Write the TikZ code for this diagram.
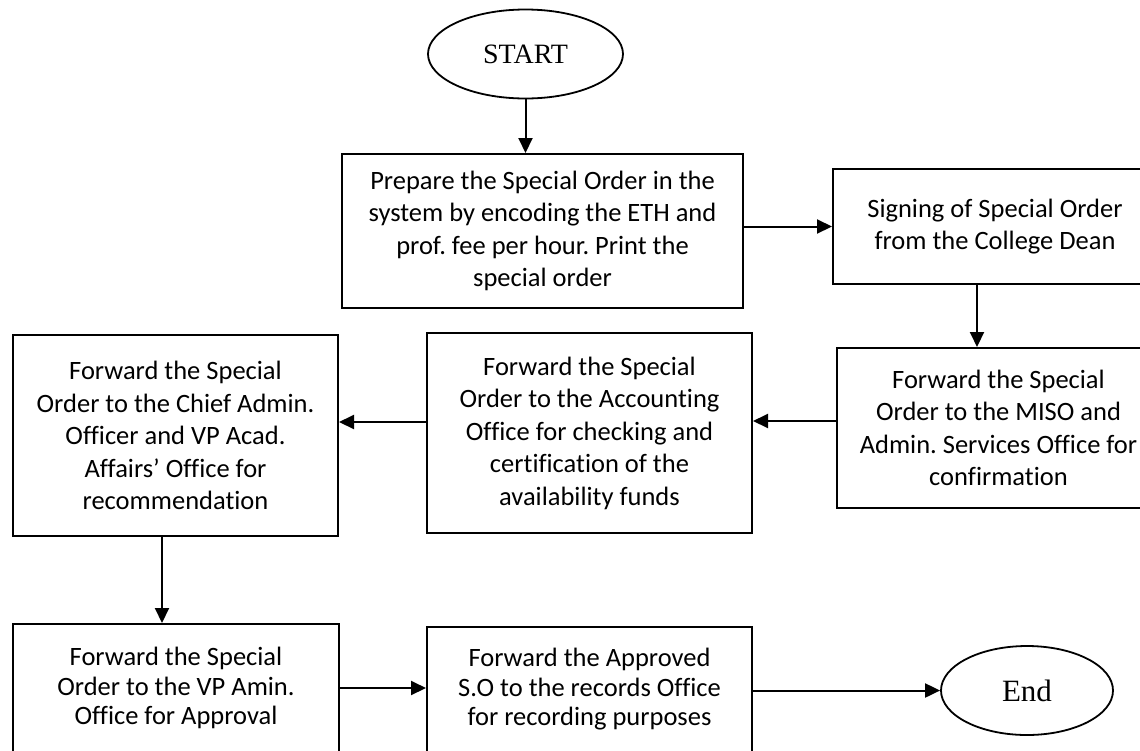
\documentclass[tikz,border=0pt]{standalone}
\usepackage{fontspec}
\setmainfont{Carlito}[Ligatures=NoCommon]
\newfontfamily\termfont{Liberation Serif}
\usetikzlibrary{arrows.meta,shapes.geometric}
\frenchspacing

\begin{document}
\begin{tikzpicture}[x=1pt,y=1pt,
  stepbox/.style={draw, line width=2pt, rectangle, inner sep=0pt, align=center,
    font=\fontsize{26.5}{32.5}\selectfont},
  lowbox/.style={stepbox, font=\fontsize{26.5}{29.5}\selectfont},
  terminal/.style={draw, line width=1.8pt, ellipse, inner sep=0pt},
  flow/.style={line width=2pt, -{Triangle[length=15pt,width=14pt]}}
]
\clip (0,0) rectangle (1140,-750);
\fill[white] (0,0) rectangle (1140,-750);

% terminals
\node[terminal, minimum width=195pt, minimum height=89pt, font=\termfont\fontsize{28}{32}\selectfont]
  (start) at (525.5,-54) {START};
\node[terminal, minimum width=172pt, minimum height=89pt, font=\termfont\fontsize{31}{36}\selectfont]
  (finish) at (1027,-690.5) {End};

% process steps
\node[stepbox, minimum width=401pt, minimum height=154pt] (prep) at (542.5,-231)
  {Prepare the Special Order in the\\system by encoding the ETH and\\prof. fee per hour. Print the\\special order};
\node[stepbox, minimum width=324pt, minimum height=115pt] (sign) at (995,-226.5)
  {Signing of Special Order\\from the College Dean};
\node[stepbox, minimum width=323pt, minimum height=160pt] (miso) at (998.5,-428)
  {Forward the Special\\Order to the MISO and\\Admin. Services Office for\\confirmation};
\node[stepbox, minimum width=325pt, minimum height=200pt] (acct) at (589.5,-433)
  {Forward the Special\\Order to the Accounting\\Office for checking and\\certification of the\\availability funds};
\node[stepbox, minimum width=325pt, minimum height=201pt] (chief) at (175.5,-435.5)
  {Forward the Special\\Order to the Chief Admin.\\Officer and VP Acad.\\Affairs’ Office for\\recommendation};
\node[lowbox, minimum width=326pt, minimum height=128pt] (vpadmin) at (176,-688)
  {Forward the Special\\Order to the VP Amin.\\Office for Approval};
\node[lowbox, minimum width=325pt, minimum height=125pt] (records) at (589.5,-689.5)
  {Forward the Approved\\S.O to the records Office\\for recording purposes};

% connectors
\draw[flow] (start.south) -- (start.south |- prep.north);
\draw[flow] (prep.east |- sign.west) -- (sign.west);
\draw[flow] ([xshift=-18pt]sign.south) -- ([xshift=-18pt]sign.south |- miso.north);
\draw[flow] ([yshift=7pt]miso.west) -- ([yshift=7pt]miso.west -| acct.east);
\draw[flow] ([yshift=11pt]acct.west) -- ([yshift=11pt]acct.west -| chief.east);
\draw[flow] ([xshift=-13.5pt]chief.south) -- ([xshift=-13.5pt]chief.south |- vpadmin.north);
\draw[flow] (vpadmin.east) -- (vpadmin.east -| records.west);
\draw[flow] (records.east |- finish.west) -- (finish.west);
\end{tikzpicture}
\end{document}
